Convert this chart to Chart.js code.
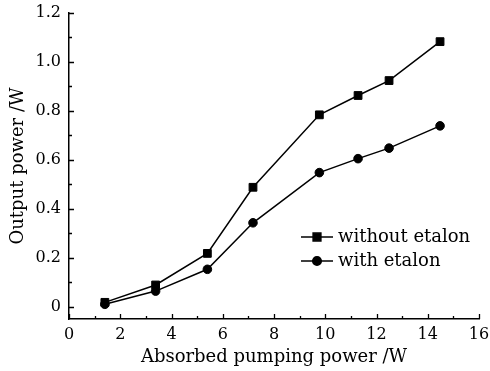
<!DOCTYPE html>
<html>
<head>
<meta charset="utf-8">
<script src="https://cdn.jsdelivr.net/npm/chart.js@4.4.0/dist/chart.umd.min.js"></script>
<style>
  html, body { margin: 0; padding: 0; background: #fff; }
  #wrap { width: 490px; height: 371px; }
</style>
</head>
<body>
<div id="wrap"><canvas id="powerchart" width="490" height="371"></canvas></div>
<script>
// absorbed pump power (W) and output power (W)
const pumpPower = [1.4, 3.38, 5.4, 7.18, 9.77, 11.28, 12.49, 14.48];
const withoutEtalon = [0.018, 0.089, 0.218, 0.488, 0.784, 0.863, 0.924, 1.083];
const withEtalon = [0.010, 0.064, 0.153, 0.343, 0.548, 0.605, 0.648, 0.739];

const xTicks = [0, 2, 4, 6, 8, 10, 12, 14, 16];
const yTicks = [0, 0.2, 0.4, 0.6, 0.8, 1.0, 1.2];

const FONT = 'DejaVu Serif';

function toPoints(ys) {
    return pumpPower.map((x, i) => ({ x: x, y: ys[i] }));
}

// inward major/minor ticks on both axes
const innerTicks = {
    id: 'innerTicks',
    afterDraw(chart) {
        const ctx = chart.ctx;
        const xs = chart.scales.x, ys = chart.scales.y;
        const left = chart.chartArea.left, bottom = chart.chartArea.bottom;
        ctx.save();
        ctx.strokeStyle = '#000';
        ctx.lineWidth = 1.3;
        ctx.beginPath();
        for (let v = 0; v <= 16; v += 1) {
            const px = Math.round(xs.getPixelForValue(v)) + 0.5;
            const len = v % 2 === 0 ? 5 : 3;
            ctx.moveTo(px, bottom);
            ctx.lineTo(px, bottom - len);
        }
        for (let k = 0; k <= 12; k++) {
            const py = Math.round(ys.getPixelForValue(k / 10)) + 0.5;
            const len = k % 2 === 0 ? 5 : 3;
            ctx.moveTo(left, py);
            ctx.lineTo(left + len, py);
        }
        ctx.stroke();
        ctx.restore();
    }
};

// legend drawn inside the plot area
const innerLegend = {
    id: 'innerLegend',
    afterDraw(chart) {
        const ctx = chart.ctx;
        const area = chart.chartArea;
        const x0 = area.right - 178;
        const rows = [area.top + 224, area.top + 248];
        ctx.save();
        chart.data.datasets.forEach((ds, i) => {
            const y = rows[i];
            ctx.strokeStyle = '#000';
            ctx.lineWidth = 1.5;
            ctx.beginPath();
            ctx.moveTo(x0, y);
            ctx.lineTo(x0 + 32, y);
            ctx.stroke();
            ctx.fillStyle = '#000';
            Chart.helpers.drawPoint(ctx, {
                pointStyle: ds.pointStyle,
                radius: ds.pointRadius,
                borderWidth: 1
            }, x0 + 16, y);
            ctx.font = '18px "' + FONT + '"';
            ctx.textBaseline = 'middle';
            ctx.textAlign = 'left';
            ctx.fillText(ds.label, x0 + 37, y);
        });
        ctx.restore();
    }
};

document.addEventListener('DOMContentLoaded', function() {
    const ctx = document.getElementById('powerchart').getContext('2d');
    new Chart(ctx, {
        type: 'scatter',
        data: {
            datasets: [{
                label: 'without etalon',
                data: toPoints(withoutEtalon),
                showLine: true,
                borderColor: '#000',
                borderWidth: 1.5,
                backgroundColor: '#000',
                pointStyle: 'rect',
                pointRadius: 5.5,
                pointBorderWidth: 1
            }, {
                label: 'with etalon',
                data: toPoints(withEtalon),
                showLine: true,
                borderColor: '#000',
                borderWidth: 1.5,
                backgroundColor: '#000',
                pointStyle: 'circle',
                pointRadius: 4.3,
                pointBorderWidth: 1
            }]
        },
        options: {
            responsive: false,
            animation: false,
            layout: { padding: { top: 13, right: 11, left: 0, bottom: 0 } },
            plugins: {
                legend: { display: false },
                tooltip: { enabled: false }
            },
            scales: {
                x: {
                    type: 'linear',
                    min: 0,
                    max: 16,
                    afterBuildTicks: s => { s.ticks = xTicks.map(v => ({ value: v })); },
                    afterFit: s => {
                        s.height = 52;
                        s.paddingLeft = 0;
                        s.paddingRight = 0;
                    },
                    grid: { display: false, drawTicks: false },
                    border: { display: true, color: '#000', width: 1.5 },
                    ticks: {
                        color: '#000',
                        padding: 6,
                        font: { family: FONT, size: 16 },
                        maxRotation: 0
                    },
                    title: {
                        display: true,
                        text: 'Absorbed pumping power /W',
                        color: '#000',
                        font: { family: FONT, size: 18 },
                        padding: { top: 0, bottom: 3 }
                    }
                },
                y: {
                    type: 'linear',
                    min: -0.05,
                    max: 1.2,
                    afterBuildTicks: s => { s.ticks = yTicks.map(v => ({ value: v })); },
                    afterFit: s => {
                        s.width = 69;
                        s.paddingTop = 0;
                        s.paddingBottom = 0;
                    },
                    grid: { display: false, drawTicks: false },
                    border: { display: true, color: '#000', width: 1.5 },
                    ticks: {
                        color: '#000',
                        padding: 8,
                        font: { family: FONT, size: 16 },
                        callback: v => v === 0 ? '0' : v.toFixed(1)
                    },
                    title: {
                        display: true,
                        text: 'Output power /W',
                        color: '#000',
                        font: { family: FONT, size: 18 },
                        padding: { top: 8, bottom: 0 }
                    }
                }
            }
        },
        plugins: [innerTicks, innerLegend]
    });
});
</script>
</body>
</html>
